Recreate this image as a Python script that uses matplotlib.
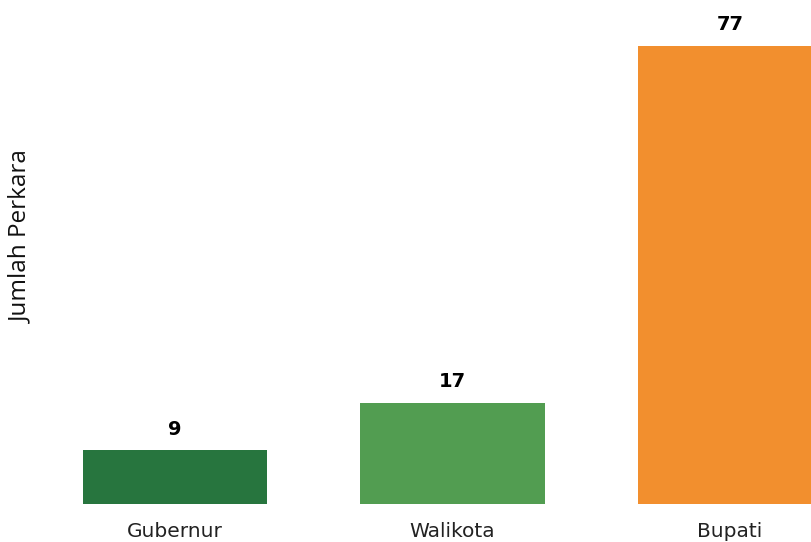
import matplotlib.pyplot as plt

# data
categories = ['Gubernur', 'Walikota', 'Bupati']
values = [9, 17, 77]
colors = ['#27753e', '#529d51', '#f28f2e']

fig = plt.figure(figsize=(8.11, 5.42), dpi=100)
# axes spans the full width; the last bar is clipped by the figure edge
ax = fig.add_axes([0, 38 / 542, 1, 504 / 542])

x = list(range(len(categories)))
bars = ax.bar(x, values, width=0.664, color=colors)

for b, v in zip(bars, values):
    ax.text(b.get_x() + b.get_width() / 2, v + 2.0, str(v),
            ha='center', va='bottom', fontsize=14, fontweight='bold',
            color='black', family='DejaVu Sans')

ax.set_xlim(-175 / 277.5, (811 - 175) / 277.5)
ax.set_ylim(0, 504 / 5.948)

ax.set_xticks(x)
ax.set_xticklabels(categories, fontsize=14.5, color='#222222', family='DejaVu Sans')
ax.tick_params(axis='x', length=0, pad=13)
ax.set_yticks([])
for s in ax.spines.values():
    s.set_visible(False)

fig.text(21 / 811, 1 - 237 / 542, 'Jumlah Perkara', rotation=90,
         ha='center', va='center', fontsize=17.5, color='#111111', family='Open Sans')

fig.savefig('out.png', dpi=100)
